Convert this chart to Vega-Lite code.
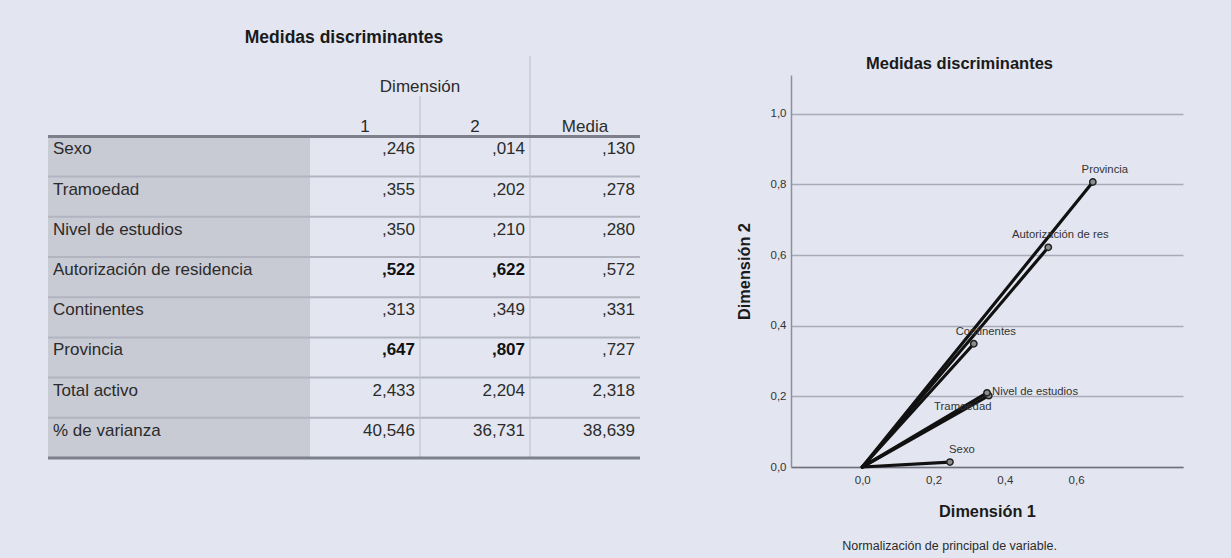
{
  "$schema": "https://vega.github.io/schema/vega-lite/v6.json",
  "background": "#e3e6f0",
  "padding": {"left": 46, "top": 28, "right": 52, "bottom": 6},
  "config": {
    "font": "Liberation Sans",
    "view": {"stroke": null},
    "title": {"font": "Liberation Sans", "fontWeight": "bold", "color": "#1a1a1a"},
    "axis": {"labelFont": "Liberation Sans", "titleFont": "Liberation Sans"}
  },
  "datasets": {
    "cells": [
      {"row": "Sexo", "col": "1", "value": ",246"},
      {"row": "Sexo", "col": "2", "value": ",014"},
      {"row": "Sexo", "col": "Media", "value": ",130"},
      {"row": "Tramoedad", "col": "1", "value": ",355"},
      {"row": "Tramoedad", "col": "2", "value": ",202"},
      {"row": "Tramoedad", "col": "Media", "value": ",278"},
      {"row": "Nivel de estudios", "col": "1", "value": ",350"},
      {"row": "Nivel de estudios", "col": "2", "value": ",210"},
      {"row": "Nivel de estudios", "col": "Media", "value": ",280"},
      {"row": "Autorización de residencia", "col": "1", "value": ",522"},
      {"row": "Autorización de residencia", "col": "2", "value": ",622"},
      {"row": "Autorización de residencia", "col": "Media", "value": ",572"},
      {"row": "Continentes", "col": "1", "value": ",313"},
      {"row": "Continentes", "col": "2", "value": ",349"},
      {"row": "Continentes", "col": "Media", "value": ",331"},
      {"row": "Provincia", "col": "1", "value": ",647"},
      {"row": "Provincia", "col": "2", "value": ",807"},
      {"row": "Provincia", "col": "Media", "value": ",727"},
      {"row": "Total activo", "col": "1", "value": "2,433"},
      {"row": "Total activo", "col": "2", "value": "2,204"},
      {"row": "Total activo", "col": "Media", "value": "2,318"},
      {"row": "% de varianza", "col": "1", "value": "40,546"},
      {"row": "% de varianza", "col": "2", "value": "36,731"},
      {"row": "% de varianza", "col": "Media", "value": "38,639"}
    ],
    "headers": [
      {"col": "1"},
      {"col": "2"},
      {"col": "Media"}
    ],
    "points": [
      {"variable": "Sexo", "label": "Sexo", "d1": 0.246, "d2": 0.014},
      {"variable": "Tramoedad", "label": "Tramoedad", "d1": 0.355, "d2": 0.202},
      {"variable": "Nivel de estudios", "label": "Nivel de estudios", "d1": 0.350, "d2": 0.210},
      {"variable": "Autorización de residencia", "label": "Autorización de res", "d1": 0.522, "d2": 0.622},
      {"variable": "Continentes", "label": "Continentes", "d1": 0.313, "d2": 0.349},
      {"variable": "Provincia", "label": "Provincia", "d1": 0.647, "d2": 0.807}
    ]
  },
  "spacing": 94,
  "hconcat": [
    {
      "title": {"text": "Medidas discriminantes", "fontSize": 17.5, "anchor": "middle", "offset": 9},
      "spacing": 0,
      "bounds": "flush",
      "hconcat": [
        {
          "width": 262,
          "height": 402,
          "data": {"name": "cells"},
          "transform": [{"filter": "datum.col === '1'"}],
          "layer": [
            {
              "mark": {"type": "rect", "color": "#c8cad4", "yOffset": -19, "y2Offset": -19},
              "encoding": {
                "y": {"field": "row", "type": "nominal", "axis": null,
                      "scale": {"type": "band", "domain": ["h1", "h2", "Sexo", "Tramoedad", "Nivel de estudios", "Autorización de residencia", "Continentes", "Provincia", "Total activo", "% de varianza"], "paddingInner": 0, "paddingOuter": 0}}
              }
            },
            {
              "transform": [{"filter": "datum.row !== 'Sexo'"}],
              "mark": {"type": "rule", "color": "#b2b5bf", "strokeWidth": 2, "yOffset": -19},
              "encoding": {
                "y": {"field": "row", "type": "nominal", "bandPosition": 0}
              }
            },
            {
              "transform": [{"filter": "datum.row === 'Sexo'"}],
              "mark": {"type": "rule", "color": "#7d808b", "strokeWidth": 3, "yOffset": -19},
              "encoding": {
                "y": {"field": "row", "type": "nominal", "bandPosition": 0}
              }
            },
            {
              "transform": [{"filter": "datum.row === '% de varianza'"}],
              "mark": {"type": "rule", "color": "#7d808b", "strokeWidth": 3, "yOffset": -19},
              "encoding": {
                "y": {"field": "row", "type": "nominal", "bandPosition": 1}
              }
            },
            {
              "mark": {"type": "text", "align": "left", "baseline": "alphabetic", "dx": 5, "dy": 18, "fontSize": 17, "color": "#2b2b2b", "yOffset": -19},
              "encoding": {
                "x": {"datum": "label", "type": "nominal", "bandPosition": 0, "axis": null, "scale": {"type": "band", "domain": ["label"], "paddingInner": 0, "paddingOuter": 0}},
                "y": {"field": "row", "type": "nominal", "bandPosition": 0},
                "text": {"field": "row"}
              }
            }
          ]
        },
        {
          "width": 330,
          "height": 402,
          "data": {"name": "cells"},
          "encoding": {
            "x": {"field": "col", "type": "nominal", "axis": null, "scale": {"type": "band", "domain": ["1", "2", "Media"], "paddingInner": 0, "paddingOuter": 0}},
            "y": {"field": "row", "type": "nominal", "axis": null,
                  "scale": {"type": "band", "domain": ["h1", "h2", "Sexo", "Tramoedad", "Nivel de estudios", "Autorización de residencia", "Continentes", "Provincia", "Total activo", "% de varianza"], "paddingInner": 0, "paddingOuter": 0}}
          },
          "layer": [
            {
              "transform": [{"filter": "datum.col === '1' && datum.row !== 'Sexo'"}],
              "mark": {"type": "rule", "color": "#b2b5bf", "strokeWidth": 2, "yOffset": -19},
              "encoding": {
                "x": null,
                "y": {"field": "row", "type": "nominal", "bandPosition": 0}
              }
            },
            {
              "data": {"name": "headers"},
              "transform": [{"filter": "datum.col === 'Media'"}],
              "mark": {"type": "rule", "color": "#c2c5ce", "strokeWidth": 1.2, "yOffset": -19, "y2Offset": -19},
              "encoding": {
                "x": {"field": "col", "type": "nominal", "bandPosition": 0},
                "y": {"datum": "h1", "type": "nominal", "bandPosition": 0},
                "y2": {"value": "height"}
              }
            },
            {
              "data": {"name": "headers"},
              "transform": [{"filter": "datum.col === '2'"}],
              "mark": {"type": "rule", "color": "#c2c5ce", "strokeWidth": 1.2, "yOffset": -19, "y2Offset": -19},
              "encoding": {
                "x": {"field": "col", "type": "nominal", "bandPosition": 0},
                "y": {"datum": "h2", "type": "nominal", "bandPosition": 0},
                "y2": {"value": "height"}
              }
            },
            {
              "transform": [{"filter": "datum.col === '1' && datum.row === 'Sexo'"}],
              "mark": {"type": "rule", "color": "#7d808b", "strokeWidth": 3, "yOffset": -19},
              "encoding": {
                "x": null,
                "y": {"field": "row", "type": "nominal", "bandPosition": 0}
              }
            },
            {
              "transform": [{"filter": "datum.col === '1' && datum.row === '% de varianza'"}],
              "mark": {"type": "rule", "color": "#7d808b", "strokeWidth": 3, "yOffset": -19},
              "encoding": {
                "x": null,
                "y": {"field": "row", "type": "nominal", "bandPosition": 1}
              }
            },
            {
              "data": {"name": "headers"},
              "mark": {"type": "text", "align": "center", "baseline": "alphabetic", "dy": -4, "fontSize": 17, "color": "#2b2b2b", "yOffset": -19},
              "encoding": {
                "x": {"field": "col", "type": "nominal", "bandPosition": 0.5},
                "y": {"datum": "h2", "type": "nominal", "bandPosition": 1},
                "text": {"field": "col"}
              }
            },
            {
              "data": {"values": [{"group": "Dimensión"}]},
              "mark": {"type": "text", "align": "center", "baseline": "alphabetic", "dy": -4, "fontSize": 17, "color": "#2b2b2b", "yOffset": -19},
              "encoding": {
                "x": {"datum": "2", "type": "nominal", "bandPosition": 0},
                "y": {"datum": "h1", "type": "nominal", "bandPosition": 1},
                "text": {"field": "group"}
              }
            },
            {
              "transform": [{"filter": "!((datum.row === 'Autorización de residencia' || datum.row === 'Provincia') && datum.col !== 'Media')"}],
              "mark": {"type": "text", "align": "right", "baseline": "alphabetic", "dx": -5, "dy": 18, "fontSize": 17, "color": "#2b2b2b", "yOffset": -19},
              "encoding": {
                "x": {"field": "col", "type": "nominal", "bandPosition": 1},
                "y": {"field": "row", "type": "nominal", "bandPosition": 0},
                "text": {"field": "value"}
              }
            },
            {
              "transform": [{"filter": "(datum.row === 'Autorización de residencia' || datum.row === 'Provincia') && datum.col !== 'Media'"}],
              "mark": {"type": "text", "align": "right", "baseline": "alphabetic", "dx": -5, "dy": 18, "fontSize": 17, "fontWeight": "bold", "color": "#111111", "yOffset": -19},
              "encoding": {
                "x": {"field": "col", "type": "nominal", "bandPosition": 1},
                "y": {"field": "row", "type": "nominal", "bandPosition": 0},
                "text": {"field": "value"}
              }
            }
          ]
        }
      ]
    },
    {
      "title": {"text": "Normalización de principal de variable.", "orient": "bottom", "anchor": "middle", "fontSize": 12.5, "fontWeight": "normal", "color": "#2b2b2b", "offset": 20, "dx": -10},
      "vconcat": [
        {
          "width": 392,
          "height": 392,
          "title": {"text": "Medidas discriminantes", "fontSize": 16.5, "anchor": "middle", "frame": "bounds", "offset": 3},
          "data": {"name": "points"},
          "encoding": {
            "x": {"field": "d1", "type": "quantitative",
                  "scale": {"domain": [-0.2, 0.9], "nice": false, "zero": false},
                  "axis": {"values": [0, 0.2, 0.4, 0.6], "labelExpr": "replace(format(datum.value, '.1f'), '.', ',')", "grid": false, "ticks": false, "domainColor": "#6f727d", "domainWidth": 1.5, "labelFontSize": 11.5, "labelColor": "#333333", "labelPadding": 7, "title": "Dimensión 1", "titleFontSize": 16.3, "titleFontWeight": "bold", "titleColor": "#1a1a1a", "titlePadding": 18}},
            "y": {"field": "d2", "type": "quantitative",
                  "scale": {"domain": [0, 1.11], "nice": false},
                  "axis": {"values": [0, 0.2, 0.4, 0.6, 0.8, 1.0], "labelExpr": "replace(format(datum.value, '.1f'), '.', ',')", "grid": true, "gridColor": "#a8abb7", "gridWidth": 1.5, "ticks": false, "domainColor": "#8d909b", "domainWidth": 1.5, "labelFontSize": 11.5, "labelColor": "#333333", "labelPadding": 5, "title": "Dimensión 2", "titleFontSize": 16.3, "titleFontWeight": "bold", "titleColor": "#1a1a1a", "titlePadding": 18}}
          },
          "layer": [
            {
              "mark": {"type": "rule", "color": "#111111", "strokeWidth": 3.2, "strokeCap": "round"},
              "encoding": {
                "x2": {"datum": 0},
                "y2": {"datum": 0}
              }
            },
            {
              "mark": {"type": "point", "shape": "circle", "filled": true, "size": 40, "fill": "#8d8d8d", "stroke": "#222222", "strokeWidth": 1.5, "opacity": 1}
            },
            {
              "data": {"values": [{"origin": "0"}]},
              "mark": {"type": "point", "shape": "circle", "filled": true, "size": 40, "fill": "#8d8d8d", "stroke": "#222222", "strokeWidth": 1.5, "opacity": 1},
              "encoding": {
                "x": {"datum": 0, "type": "quantitative"},
                "y": {"datum": 0, "type": "quantitative"}
              }
            },
            {
              "transform": [{"filter": "datum.variable !== 'Nivel de estudios' && datum.variable !== 'Tramoedad'"}],
              "mark": {"type": "text", "align": "center", "baseline": "middle", "dx": 12, "dy": -12, "fontSize": 11.3, "color": "#333333"},
              "encoding": {"text": {"field": "label"}}
            },
            {
              "transform": [{"filter": "datum.variable === 'Nivel de estudios'"}],
              "mark": {"type": "text", "align": "left", "baseline": "middle", "dx": 5, "dy": -1, "fontSize": 11.3, "color": "#333333"},
              "encoding": {"text": {"field": "label"}}
            },
            {
              "transform": [{"filter": "datum.variable === 'Tramoedad'"}],
              "mark": {"type": "text", "align": "center", "baseline": "middle", "dx": -26, "dy": 11, "fontSize": 11.3, "color": "#333333"},
              "encoding": {"text": {"field": "label"}}
            }
          ]
        }
      ]
    }
  ]
}
